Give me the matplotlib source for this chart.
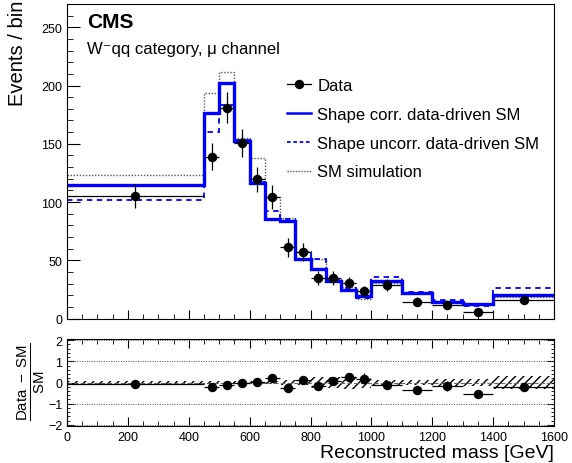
import numpy as np
import matplotlib
matplotlib.use('Agg')
import matplotlib.pyplot as plt
from matplotlib.lines import Line2D
from matplotlib.ticker import MultipleLocator

plt.rcParams['font.family'] = ['Liberation Sans', 'DejaVu Sans']
plt.rcParams['mathtext.fontset'] = 'custom'
plt.rcParams['mathtext.rm'] = 'Liberation Sans'
plt.rcParams['mathtext.it'] = 'Liberation Sans:italic'
plt.rcParams['mathtext.bf'] = 'Liberation Sans:bold'
plt.rcParams['hatch.linewidth'] = 1.0

#########################
##  values read off   ##
#########################

edges = np.array([0, 450, 500, 550, 600, 650, 700, 750, 800, 850, 900, 950,
                  1000, 1100, 1200, 1300, 1400, 1600])
data = np.array([105, 139, 181, 150.5, 119.5, 104, 61, 57.3, 34.5, 34.5, 30.3,
                 23.3, 28.7, 14.4, 11.9, 5.3, 16.1])
sm_corr = np.array([115, 176.8, 202.6, 152, 116, 85.3, 84, 51, 42.4, 32, 24.5,
                    19.7, 32.5, 22, 14.4, 12.1, 20.4])
sm_uncorr = np.array([101.9, 159.7, 183.4, 153, 117, 92.5, 85.5, 57.3, 51, 33.9,
                      26.5, 17.5, 35.9, 23, 15.9, 11, 26.4])
sm_sim = np.array([123, 194, 212, 155, 138, 104, 86, 58, 51.5, 34, 27, 16.5,
                   30.2, 21.8, 15, 12.8, 18.2])
# relative uncertainty of the SM prediction (hatched band in the ratio)
band = np.array([0.07, 0.08, 0.07, 0.06, 0.06, 0.08, 0.1, 0.12, 0.25, 0.28,
                 0.3, 0.25, 0.1, 0.12, 0.15, 0.17, 0.3])

centers = 0.5 * (edges[:-1] + edges[1:])
halfw = 0.5 * (edges[1:] - edges[:-1])
err = np.sqrt(data)

ratio = (data - sm_corr) / sm_corr
ratio_err = err / sm_corr

W, H = 572, 464
fig = plt.figure(figsize=(W / 100, H / 100), dpi=100)

x0, x1 = 67, 554
ax = fig.add_axes([x0 / W, 1 - 319.5 / H, (x1 - x0) / W, (319.5 - 5) / H])
axr = fig.add_axes([x0 / W, 1 - 427 / H, (x1 - x0) / W, (427 - 340) / H])

# top panel
ax.stairs(sm_sim, edges, baseline=None, color='0.35', lw=1.0, ls=(0, (1, 1.2)))
ax.stairs(sm_uncorr, edges, baseline=None, color='#0000ff', lw=1.3, ls=(0, (3, 2.5)))
ax.stairs(sm_corr, edges, baseline=None, color='#0000ff', lw=2.4)
ax.errorbar(centers, data, xerr=halfw, yerr=err, fmt='o', color='black',
            ms=5.8, elinewidth=0.9, capsize=0, zorder=5)

ax.set_xlim(0, 1600)
ax.set_ylim(0, 270)
ax.xaxis.set_major_locator(MultipleLocator(200))
ax.xaxis.set_minor_locator(MultipleLocator(50))
ax.yaxis.set_major_locator(MultipleLocator(50))
ax.yaxis.set_minor_locator(MultipleLocator(10))
ax.tick_params(which='both', direction='in', top=False, right=False, labelsize=9)
ax.tick_params(axis='x', which='major', length=6.5, labelbottom=False)
ax.tick_params(axis='x', which='minor', length=3.6)
ax.tick_params(axis='y', which='major', length=9)
ax.tick_params(axis='y', which='minor', length=4.5)

ax.text(0.041, 0.927, 'CMS', transform=ax.transAxes, fontsize=15,
        fontweight='bold', va='baseline')
ax.text(0.041, 0.845, 'W\u207bqq category, \u03bc channel', transform=ax.transAxes,
        fontsize=12, va='baseline')

handles = [
    Line2D([], [], color='black', marker='o', ms=5.8, lw=0.9),
    Line2D([], [], color='#0000ff', lw=1.8),
    Line2D([], [], color='#0000ff', lw=1.3, ls=(0, (2, 1.5))),
    Line2D([], [], color='0.35', lw=1.0, ls=(0, (1, 1))),
]
labels = ['Data', 'Shape corr. data-driven SM', 'Shape uncorr. data-driven SM',
          'SM simulation']
ax.legend(handles, labels, loc='upper left', bbox_to_anchor=(0.451, 0.765),
          frameon=False, fontsize=12, handlelength=1.45, handletextpad=0.4,
          labelspacing=0.83, borderpad=0, borderaxespad=0)

# ratio panel
axr.stairs(band, edges, baseline=-band, fill=True, facecolor='none',
           edgecolor='black', hatch='////', lw=0)
axr.axhline(0, color='0.4', lw=0.8, ls=(0, (4, 2)))
for yy in (-2, -1, 1, 2):
    axr.axhline(yy, color='0.3', lw=0.7, ls=(0, (1, 1.5)))
axr.errorbar(centers, ratio, xerr=halfw, yerr=ratio_err, fmt='o', color='black',
             ms=5.8, elinewidth=0.9, capsize=0, zorder=5)

axr.set_xlim(0, 1600)
axr.set_ylim(-2.05, 2.05)
axr.xaxis.set_major_locator(MultipleLocator(200))
axr.xaxis.set_minor_locator(MultipleLocator(50))
axr.yaxis.set_major_locator(MultipleLocator(1))
axr.yaxis.set_minor_locator(MultipleLocator(0.2))
axr.tick_params(which='both', direction='in', top=True, right=True, labelsize=9)
axr.tick_params(axis='x', which='major', length=6.5)
axr.tick_params(axis='x', which='minor', length=3.6)
axr.tick_params(axis='y', which='major', length=5)
axr.tick_params(axis='y', which='minor', length=2.5)

# labels
fig.text(18 / W, 1 - 1 / H, 'Events / bin', rotation=90, ha='center', va='top',
         fontsize=14.5)
fig.text(x1 / W, 6 / H, 'Reconstructed mass [GeV]', ha='right', va='baseline',
         fontsize=14)
fig.text(31 / W, 1 - 382 / H, r'$\frac{\mathrm{Data\ -\ SM}}{\mathrm{SM}}$',
         rotation=90, ha='center', va='center', fontsize=15.5)
fig.text(x1 / W, 1 - 1 / H, '35.9 fb$^{-1}$ (13 TeV)', ha='right', va='bottom',
         fontsize=12)

plt.savefig('out.png', dpi=100)
